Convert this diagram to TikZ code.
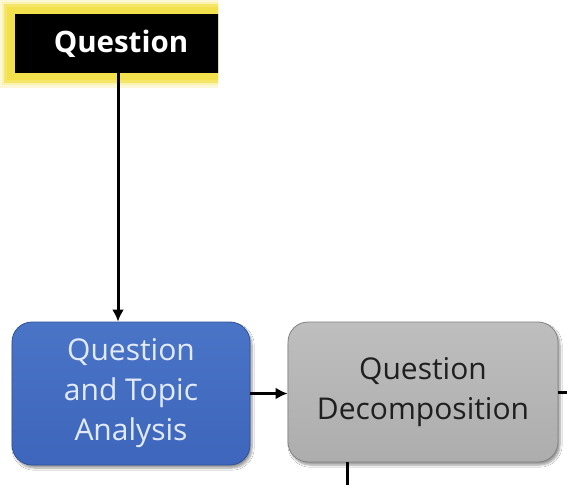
\documentclass[tikz,border=0pt]{standalone}
\usepackage{fontspec}
\setmainfont{Open Sans}
\usetikzlibrary{shadows.blur,arrows.meta}
\definecolor{procblue}{HTML}{3D66BC}
\definecolor{procbluetop}{HTML}{4A74C6}
\definecolor{procgray}{HTML}{ADADAD}
\definecolor{procgraytop}{HTML}{BEBEBE}
\definecolor{glow}{HTML}{F2E04C}
\definecolor{glowpale}{HTML}{FBF3B0}
\definecolor{bluetext}{HTML}{E2EAF8}
\tikzset{
  procbox/.style={rounded corners=20pt, align=center, inner sep=0pt,
    blur shadow={shadow xshift=2pt, shadow yshift=-3pt, shadow blur steps=6, shadow opacity=40},
    font=\fontsize{30}{40}\selectfont},
  bluebox/.style={procbox, top color=procbluetop, bottom color=procblue, draw=procblue!80!black, line width=0.8pt, text=bluetext},
  graybox/.style={procbox, top color=procgraytop, bottom color=procgray, draw=procgray!75!black, line width=0.8pt, text=black!88},
  flow/.style={line width=3pt, black},
  flowarrow/.style={flow, -{Latex[length=12pt,width=12pt]}}
}
\begin{document}
\begin{tikzpicture}[x=1pt,y=1pt]
\useasboundingbox[fill=white] (0,0) rectangle (567,485);
% input block with its yellow halo, cut off at the right
\begin{scope}
  \clip (0,0) rectangle (218,485);
  \fill[glowpale, opacity=0.5] (0,397) rectangle (240,485);
  \fill[glowpale] (2,400) rectangle (240,483);
  \fill[glow!70!glowpale] (4,402) rectangle (240,481);
  \fill[glow] (7,405) rectangle (240,478);
  \node[fill=black, minimum width=206pt, minimum height=59pt, inner sep=0pt] (q) at (118,441.5) {};
\end{scope}
\node[text=white, font=\fontsize{29.5}{32}\selectfont\bfseries] (qlabel) at (121,441.5) {Question};
% process blocks
\node[bluebox, minimum width=238pt, minimum height=143pt] (qa) at (131,91.5)
  {Question\\and Topic\\Analysis};
\node[graybox, minimum width=270pt, minimum height=140pt] (qd) at (423,93)
  {Question\\Decomposition};
% free ends leaving the frame
\coordinate (outright) at (567,93);
\coordinate (outdown) at (347,0);
% connectors
\draw[flowarrow] (q.south) -- (q.south |- qa.north);
\draw[flowarrow] (qa.east) -- (qa.east -| qd.west);
\draw[flow] (qd.east) -- (outright);
\draw[flow] (qd.south -| outdown) -- (outdown);
\end{tikzpicture}
\end{document}
